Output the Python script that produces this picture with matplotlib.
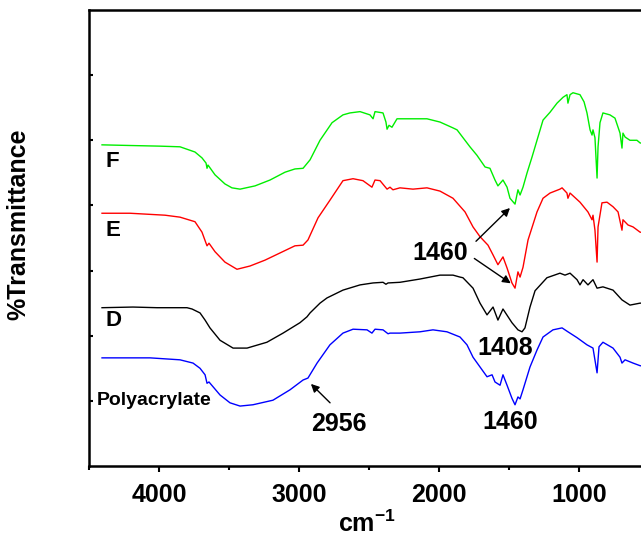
"""
FTIR spectra of polyacrylate and samples D, E, F (stacked, offset)
"""

import matplotlib.pyplot as plt
from matplotlib.ticker import MultipleLocator

plt.rcParams['font.family'] = ['Liberation Sans', 'DejaVu Sans']
plt.rcParams['font.weight'] = 'bold'
plt.rcParams['mathtext.fontset'] = 'custom'
plt.rcParams['mathtext.rm'] = 'Liberation Sans:bold'
plt.rcParams['mathtext.bf'] = 'Liberation Sans:bold'

# Sample F (green)
f_wn = [4407, 4207, 3993, 3850, 3743, 3693, 3664, 3657, 3650, 3600, 3529, 3479,
        3421, 3314, 3207, 3100, 3029, 2971, 2921, 2850, 2764, 2686, 2636, 2564,
        2493, 2471, 2457, 2400, 2379, 2371, 2357, 2336, 2300, 2207, 2086, 1993,
        1900, 1871, 1779, 1729, 1671, 1636, 1600, 1579, 1543, 1514, 1493, 1457,
        1436, 1421, 1400, 1371, 1336, 1300, 1257, 1207, 1157, 1114, 1086, 1079,
        1064, 1043, 993, 964, 943, 921, 907, 900, 886, 871, 864, 850, 829, 779,
        743, 707, 693, 686, 671, 636, 586, 564, 450]
f_t = [49.3, 49.2, 49.1, 49.0, 48.2, 47.3, 46.5, 45.7, 46.2, 44.7, 43.3, 42.7,
       42.5, 43.0, 43.9, 45.1, 45.6, 45.7, 47.0, 50.0, 52.7, 53.9, 54.2, 54.4,
       53.9, 53.3, 54.4, 54.2, 52.8, 51.7, 52.3, 52.0, 53.3, 53.3, 53.3, 52.8,
       51.9, 51.6, 49.0, 47.7, 45.9, 45.7, 43.9, 43.0, 43.9, 42.8, 41.1, 40.2,
       42.4, 41.6, 42.8, 45.0, 47.4, 50.0, 53.1, 54.3, 55.7, 56.6, 57.0, 55.7,
       57.0, 57.3, 57.0, 55.9, 54.2, 51.6, 50.8, 51.6, 50.4, 44.2, 49.0, 52.7,
       54.2, 53.9, 53.4, 51.1, 48.8, 51.1, 50.5, 50.0, 50.0, 49.6, 49.0]

# Sample E (red)
e_wn = [4407, 4207, 3957, 3850, 3743, 3693, 3664, 3657, 3643, 3600, 3529, 3443,
        3350, 3243, 3136, 3029, 2971, 2936, 2864, 2779, 2686, 2614, 2543, 2479,
        2457, 2421, 2371, 2350, 2329, 2279, 2186, 2086, 1993, 1900, 1814, 1757,
        1707, 1650, 1614, 1579, 1543, 1514, 1479, 1457, 1436, 1421, 1400, 1364,
        1300, 1257, 1207, 1136, 1121, 1086, 1079, 1064, 993, 936, 907, 900, 886,
        871, 864, 836, 800, 757, 721, 693, 686, 650, 614, 564, 450]
e_t = [38.8, 38.8, 38.5, 38.2, 37.5, 35.9, 34.2, 33.8, 34.2, 32.9, 31.3, 30.2,
       30.7, 31.6, 32.7, 33.8, 33.9, 34.7, 38.1, 40.8, 43.8, 44.1, 43.8, 42.8,
       43.9, 43.8, 42.5, 42.8, 42.4, 42.7, 42.5, 42.7, 42.2, 41.1, 39.0, 36.7,
       35.2, 33.9, 32.4, 30.9, 32.1, 30.4, 28.1, 27.3, 29.8, 29.0, 30.5, 34.7,
       39.0, 41.1, 41.9, 42.5, 42.7, 41.9, 41.1, 41.9, 40.5, 39.0, 37.8, 38.5,
       36.2, 31.3, 36.7, 40.4, 40.5, 39.8, 39.0, 36.2, 37.8, 37.0, 36.7, 35.9,
       35.5]

# Sample D (black)
d_wn = [4407, 4186, 4014, 3800, 3764, 3707, 3671, 3636, 3564, 3471, 3371, 3229,
        3114, 2993, 2943, 2921, 2850, 2800, 2686, 2564, 2471, 2400, 2379, 2364,
        2279, 2136, 1993, 1900, 1850, 1829, 1757, 1707, 1657, 1614, 1579, 1543,
        1479, 1436, 1407, 1386, 1350, 1314, 1229, 1136, 1100, 1064, 1014, 993,
        971, 936, 900, 871, 829, 757, 693, 636, 564, 450]
d_t = [24.3, 24.4, 24.3, 24.3, 24.1, 23.5, 22.4, 21.2, 19.3, 18.1, 18.1, 19.0,
       20.4, 22.0, 22.9, 23.5, 25.0, 25.8, 27.0, 27.8, 28.1, 28.2, 27.9, 28.1,
       28.2, 28.7, 29.3, 29.3, 29.0, 28.9, 27.3, 25.0, 23.2, 24.4, 22.4, 24.1,
       22.0, 20.9, 20.6, 21.2, 24.4, 26.9, 28.9, 29.6, 29.3, 29.6, 28.6, 27.8,
       28.6, 27.8, 28.6, 27.3, 27.5, 27.0, 25.5, 24.7, 25.0, 25.0]

# Polyacrylate (blue)
p_wn = [4407, 4064, 3850, 3757, 3707, 3671, 3657, 3643, 3564, 3493, 3421, 3329,
        3186, 3064, 2971, 2936, 2871, 2779, 2686, 2614, 2514, 2479, 2457, 2400,
        2364, 2350, 2279, 2136, 2043, 1943, 1850, 1800, 1757, 1707, 1657, 1621,
        1600, 1564, 1543, 1514, 1479, 1457, 1436, 1421, 1400, 1350, 1300, 1257,
        1186, 1121, 1079, 1014, 943, 900, 871, 857, 829, 757, 707, 693, 671, 614,
        564, 450]
p_t = [16.6, 16.6, 16.3, 15.8, 15.0, 14.0, 12.7, 12.9, 10.9, 9.7, 9.2, 9.4,
       10.1, 11.7, 13.2, 13.5, 15.8, 18.6, 20.4, 21.0, 20.9, 20.4, 21.0, 20.9,
       20.3, 20.4, 20.4, 20.6, 20.9, 20.6, 19.8, 18.6, 16.7, 15.2, 13.7, 14.0,
       12.9, 12.4, 14.0, 12.4, 10.4, 9.4, 10.6, 10.3, 11.7, 15.2, 17.8, 19.8,
       20.9, 21.2, 20.6, 19.7, 18.6, 18.1, 14.3, 18.3, 19.0, 18.1, 16.7, 15.8,
       16.3, 15.8, 15.4, 15.0]

x_ticks = [4000, 3000, 2000, 1000]


def create_ftir_plot():
    fig = plt.figure(figsize=(6.41, 5.42), dpi=100)
    # axes runs past the right edge of the figure, as in the original crop
    ax = fig.add_axes([89 / 641, 76 / 542, 574 / 641, 456 / 542])

    ax.plot(f_wn, f_t, color='#00ee00', lw=1.0)
    ax.plot(e_wn, e_t, color='#ff0000', lw=1.0)
    ax.plot(d_wn, d_t, color='black', lw=1.0)
    ax.plot(p_wn, p_t, color='#0000ff', lw=1.0)

    ax.set_xlim(4500, 400)
    ax.set_ylim(0, 70)

    ax.set_xticks(x_ticks)
    ax.xaxis.set_minor_locator(MultipleLocator(500))
    ax.tick_params(axis='x', which='major', direction='out', length=4, width=1.5,
                   labelsize=18, pad=8)
    ax.tick_params(axis='x', which='minor', direction='out', length=3, width=1.5)
    ax.set_yticks(range(10, 70, 10))
    ax.tick_params(axis='y', direction='in', length=3, width=1.5, labelleft=False)
    for lbl in ax.get_xticklabels():
        lbl.set_fontweight('bold')
    for sp in ax.spines.values():
        sp.set_linewidth(1.8)

    ax.set_xlabel(r'cm$^{\mathbf{-1}}$', fontsize=18, fontweight='bold')
    ax.xaxis.set_label_coords(0.484, -0.098)
    ax.set_ylabel('%Transmittance', fontsize=18, fontweight='bold')
    ax.yaxis.set_label_coords(-0.103, 0.531)

    # curve names
    ax.text(4379, 46.7, 'F', fontsize=16, weight='bold', va='center', ha='left')
    ax.text(4379, 36.1, 'E', fontsize=16, weight='bold', va='center', ha='left')
    ax.text(4379, 22.4, 'D', fontsize=16, weight='bold', va='center', ha='left')
    ax.text(4443, 10.1, 'Polyacrylate', fontsize=14, weight='bold', va='center', ha='left')

    # band annotations
    arrow = dict(arrowstyle='-|>', color='black', lw=1.0, mutation_scale=12)
    ax.text(1993, 32.7, '1460', fontsize=18, weight='bold', ha='center', va='center')
    ax.annotate('', xy=(1479, 39.9), xytext=(1750, 34.2), arrowprops=arrow)
    ax.annotate('', xy=(1471, 27.8), xytext=(1764, 32.1), arrowprops=arrow)
    ax.text(1529, 18.1, '1408', fontsize=18, weight='bold', ha='center', va='center')
    ax.text(1493, 6.8, '1460', fontsize=18, weight='bold', ha='center', va='center')
    ax.text(2714, 6.4, '2956', fontsize=18, weight='bold', ha='center', va='center')
    ax.annotate('', xy=(2929, 12.9), xytext=(2764, 9.4), arrowprops=arrow)

    return fig


if __name__ == "__main__":
    fig = create_ftir_plot()
    fig.savefig('out.png', dpi=100, facecolor='white')
    plt.close(fig)
